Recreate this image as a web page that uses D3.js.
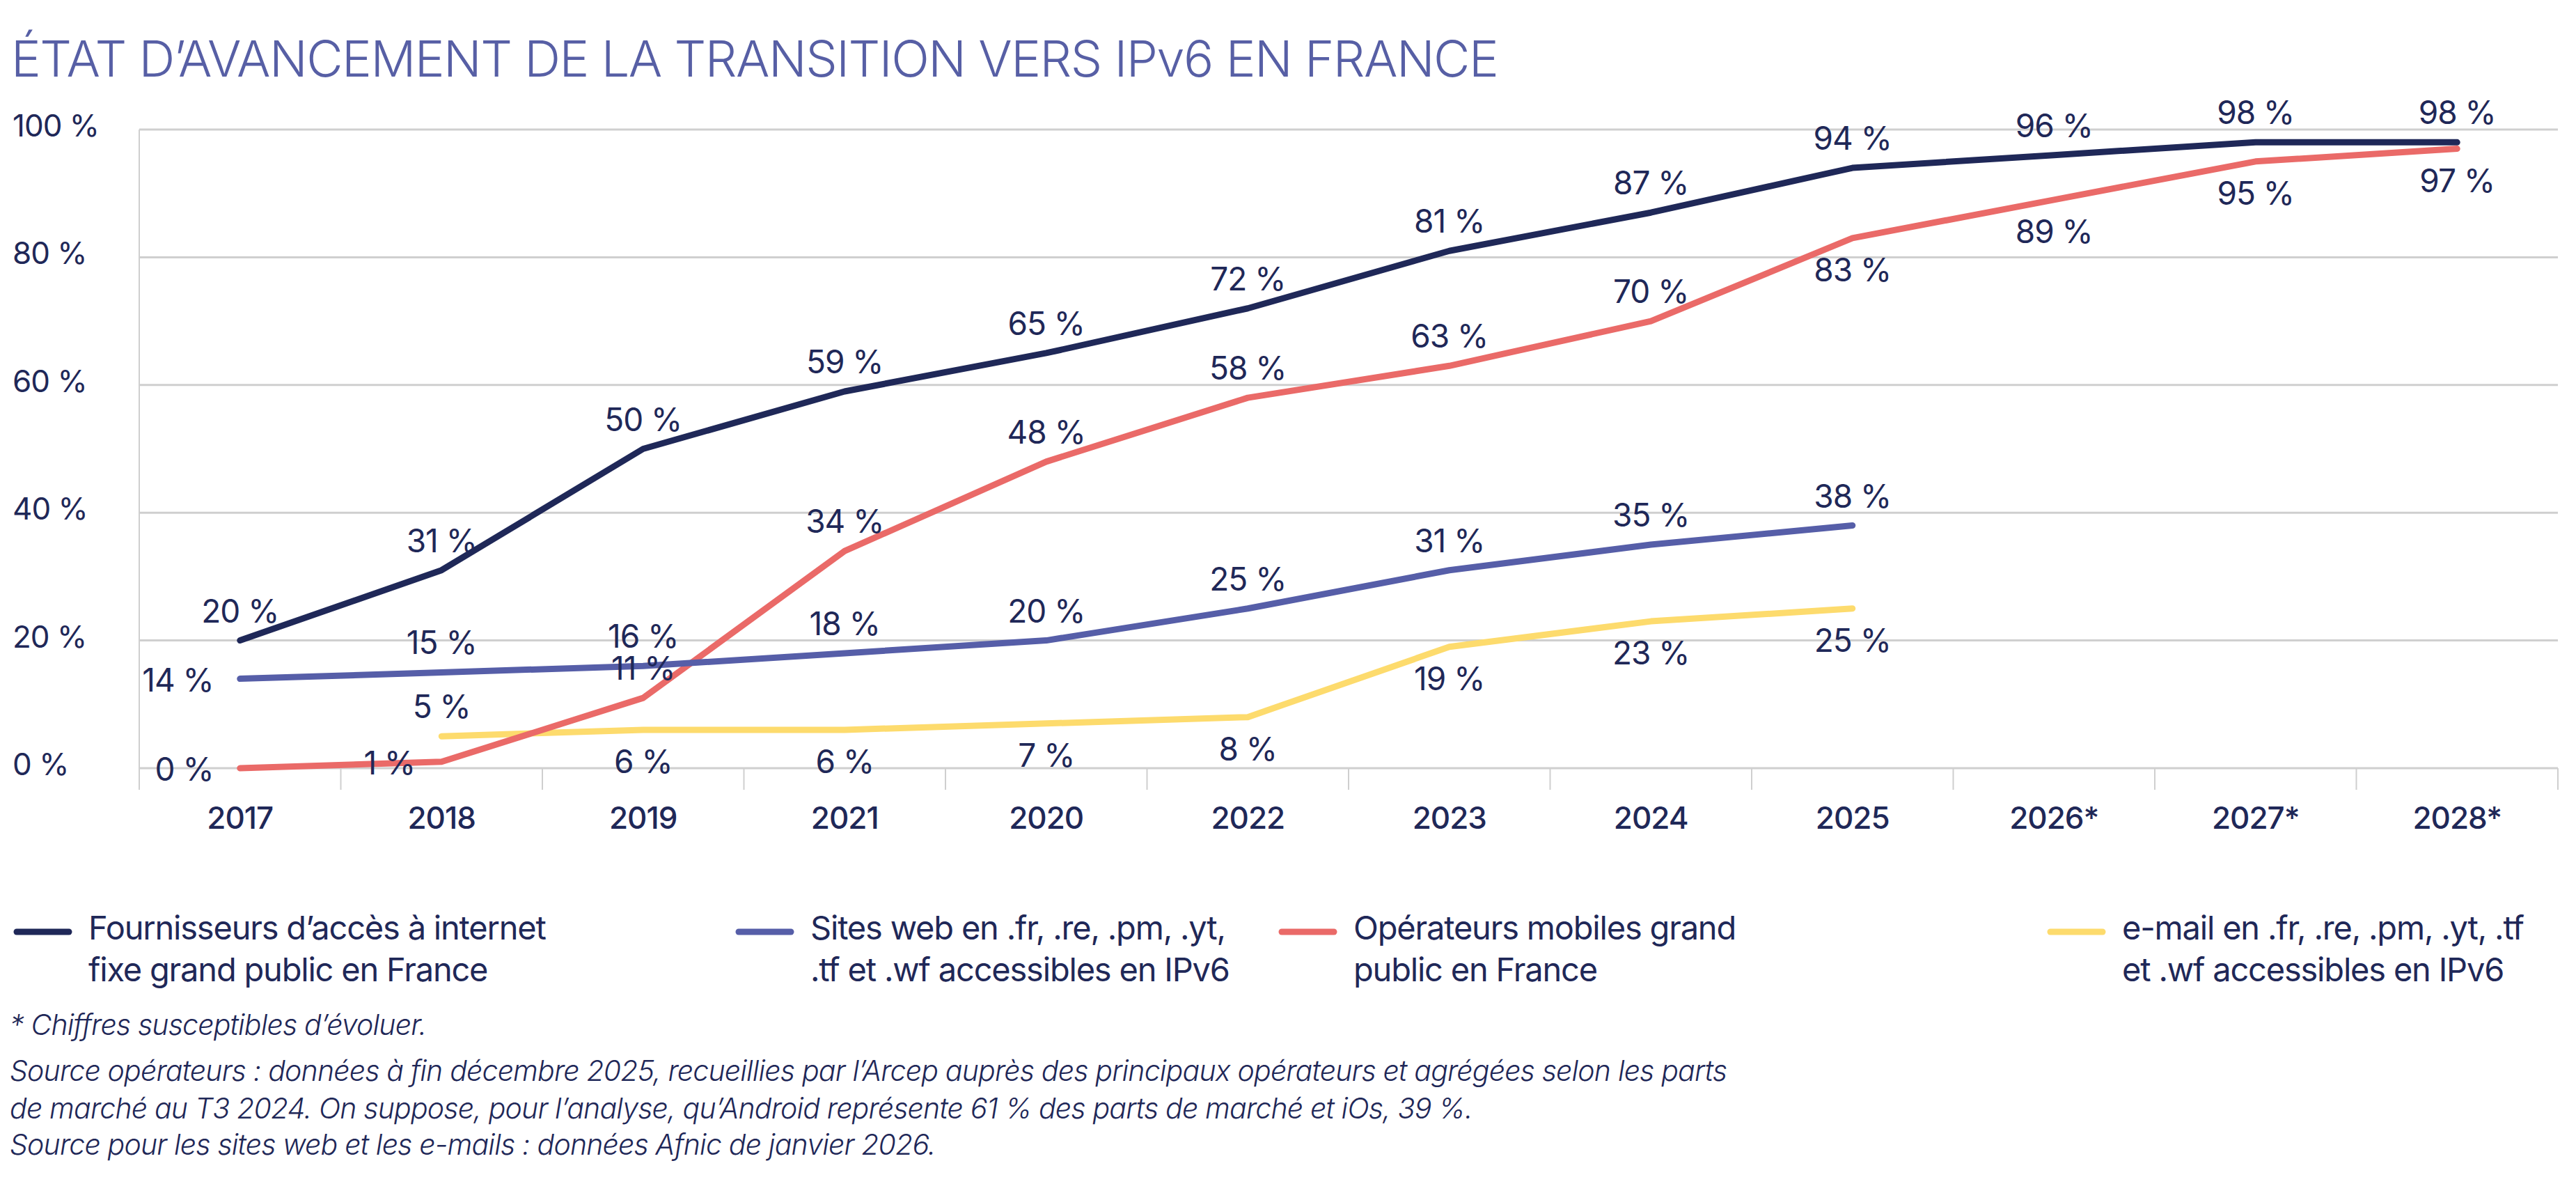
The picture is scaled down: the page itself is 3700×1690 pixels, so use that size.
<!DOCTYPE html>
<html><head><meta charset="utf-8">
<script src="https://cdn.jsdelivr.net/npm/d3@7"></script>
<style>body{margin:0;background:#fff}svg{font-family:Inter,"Noto Sans",sans-serif}</style>
</head><body><svg id="c" width="3700" height="1690"></svg>
<script>
const categories=["2017","2018","2019","2021","2020","2022","2023","2024","2025","2026*","2027*","2028*"];
const yTicks=[0,20,40,60,80,100];
const isp=[20,31,50,59,65,72,81,87,94,96,98,98];
const sites=[14,15,16,18,20,25,31,35,38,null,null,null];
const mobile=[0,1,11,34,48,58,63,70,83,89,95,97];
const email=[null,5,6,6,7,8,19,23,25,null,null,null];
const ispPos=["a","a","a","a","a","a","a","a","a","a","a","a"];
const sitesPos=["l","a","a","a","a","a","a","a","a"];
const mobilePos=["l","l","a","a","a","a","a","a","b","b","b","b"];
const emailPos=[null,"a","b","b","b","b","b","b","b"];
const seriesNames=["Fournisseurs d’accès à internet|fixe grand public en France","Sites web en .fr, .re, .pm, .yt,|.tf et .wf accessibles en IPv6","Opérateurs mobiles grand|public en France","e-mail en .fr, .re, .pm, .yt, .tf|et .wf accessibles en IPv6"];
const colors=["#1f2858","#565ea8","#ea6a68","#fddb6d"];
const navy="#1f2858";

const svg=d3.select("#c");
const x=d3.scaleBand().domain(categories).range([200,3674]);
const y=d3.scaleLinear().domain([0,100]).range([1103,186]);

svg.append("text").attr("x",16).attr("y",110).attr("font-size",72).attr("letter-spacing",-1.5).attr("fill","#575fa5")
 .attr("font-weight",300).text("ÉTAT D’AVANCEMENT DE LA TRANSITION VERS IPv6 EN FRANCE");

svg.append("g").selectAll("line").data(yTicks).join("line")
 .attr("x1",200).attr("x2",3674).attr("y1",d=>y(d)).attr("y2",d=>y(d)).attr("stroke","#cfcfcf").attr("stroke-width",3);
svg.append("line").attr("x1",200).attr("x2",200).attr("y1",186).attr("y2",1134).attr("stroke","#cfcfcf").attr("stroke-width",2);
svg.append("g").selectAll("line").data(categories).join("line")
 .attr("x1",d=>x(d)+x.bandwidth()).attr("x2",d=>x(d)+x.bandwidth()).attr("y1",1103).attr("y2",1134).attr("stroke","#cfcfcf").attr("stroke-width",2);
svg.append("g").selectAll("text").data(yTicks).join("text")
 .attr("x",18).attr("y",d=>y(d)+10).attr("font-size",44).attr("letter-spacing",-1).attr("fill",navy).text(d=>d+" %");
svg.append("g").selectAll("text").data(categories).join("text")
 .attr("x",d=>x(d)+x.bandwidth()/2).attr("y",1190).attr("text-anchor","middle").attr("font-size",44).attr("letter-spacing",-1).attr("font-weight",500).attr("fill",navy).text(d=>d);

const all=[[isp,ispPos],[sites,sitesPos],[mobile,mobilePos],[email,emailPos]];
const cx=i=>x(categories[i])+x.bandwidth()/2;
const line=d3.line().defined(d=>d!=null).x((d,i)=>cx(i)).y(d=>y(d));
[3,2,1,0].forEach(k=>{
 svg.append("path").datum(all[k][0]).attr("d",line).attr("fill","none").attr("stroke",colors[k]).attr("stroke-width",9).attr("stroke-linecap","round").attr("stroke-linejoin","round");
});
all.forEach(([vals,pos])=>{
 vals.forEach((v,i)=>{
  if(v==null)return;
  const p=pos[i];let tx=cx(i),ty=y(v),anchor="middle";
  if(p==="a"){ty-=26;}
  else if(p==="b"){ty+=62;}
  else if(p==="l"){tx-=38;ty+=18;anchor="end";}
  svg.append("text").attr("x",tx).attr("y",ty).attr("text-anchor",anchor).attr("font-size",46).attr("letter-spacing",-1).attr("fill",navy).text(v+" %");
 });
});

const legX=[19,1056,1836,2940];
seriesNames.forEach((n,k)=>{
 svg.append("line").attr("x1",legX[k]+5).attr("x2",legX[k]+80).attr("y1",1338).attr("y2",1338).attr("stroke",colors[k]).attr("stroke-width",9).attr("stroke-linecap","round");
 n.split("|").forEach((t,j)=>svg.append("text").attr("x",legX[k]+108).attr("y",1349+j*60).attr("font-size",47).attr("letter-spacing",-1.2).attr("fill",navy).text(t));
});
const notes=[["* Chiffres susceptibles d’évoluer.",1486],["Source opérateurs : données à fin décembre 2025, recueillies par l’Arcep auprès des principaux opérateurs et agrégées selon les parts",1552],["de marché au T3 2024. On suppose, pour l’analyse, qu’Android représente 61 % des parts de marché et iOs, 39 %.",1606],["Source pour les sites web et les e-mails : données Afnic de janvier 2026.",1658]];
notes.forEach(([t,yy])=>svg.append("text").attr("x",14).attr("y",yy).attr("font-size",41).attr("letter-spacing",-0.8).attr("font-style","italic").attr("font-weight",300).attr("fill",navy).text(t));
</script></body></html>
